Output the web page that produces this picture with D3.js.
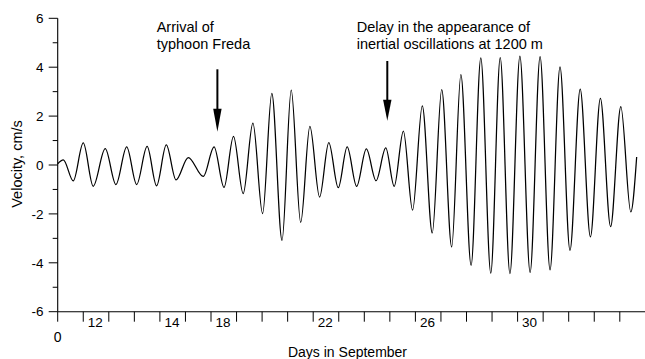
<!DOCTYPE html>
<html>
<head>
<meta charset="utf-8">
<script src="https://cdn.jsdelivr.net/npm/d3@7"></script>
<style>
  html, body { margin: 0; padding: 0; background: #fff; }
  svg { display: block; font-family: "Liberation Sans", Arial, sans-serif; }
</style>
</head>
<body>
<svg id="chart" width="645" height="359"></svg>
<script>
// Current velocity record: turning points of the oscillation (day index, cm/s)
const days = [0, 0.22, 0.61, 1.00, 1.39, 1.86, 2.28, 2.70, 3.09, 3.50, 3.87, 4.25, 4.63, 5.11, 5.70,
  6.12, 6.51, 6.88, 7.26, 7.64, 8.02, 8.38, 8.78, 9.14, 9.51, 9.87, 10.25, 10.61, 10.98, 11.33,
  11.70, 12.08, 12.46, 12.84, 13.17, 13.53, 13.89, 14.27, 14.66, 15.03, 15.42, 15.78, 16.18,
  16.56, 16.95, 17.32, 17.70, 18.09, 18.49, 18.88, 19.27, 19.66, 20.05, 20.45, 20.85, 21.24,
  21.64, 22.04, 22.43, 22.66];
const velocity = [0.05, 0.21, -0.65, 0.90, -0.87, 0.67, -0.80, 0.74, -0.80, 0.76, -0.85, 0.82,
  -0.61, 0.30, -0.47, 0.74, -0.92, 1.17, -1.17, 1.71, -1.99, 2.93, -3.08, 3.06, -2.35, 1.58,
  -1.31, 0.92, -0.93, 0.74, -0.87, 0.66, -0.64, 0.70, -0.87, 1.39, -1.85, 2.42, -2.78, 3.08,
  -3.35, 3.70, -4.11, 4.38, -4.42, 4.39, -4.44, 4.45, -4.39, 4.43, -4.29, 4.01, -3.49, 3.10,
  -2.94, 2.73, -2.52, 2.39, -1.92, 0.33];

// Axis ticks and labels
const xTickDays = d3.range(0, 23);
const xLabelDays = [1, 4, 6, 10, 14, 18];
const xLabels = ["12", "14", "18", "22", "26", "30"];
const xOriginLabel = "0";
const yMajorTicks = [-6, -4, -2, 0, 2, 4, 6];
const yMinorTicks = [-5, -3, -1, 1, 3, 5];

// Annotated events (day index)
const arrivalDay = 6.25;
const delayDay = 12.9;

const svg = d3.select("#chart");
const x = d3.scaleLinear().domain([0, 23]).range([57.7, 645.35]);
const y = d3.scaleLinear().domain([-6, 6]).range([311.7, 18.3]);

// Axes
const yAxis = svg.append("g");
yAxis.append("line")
  .attr("x1", x(0)).attr("x2", x(0))
  .attr("y1", y(6)).attr("y2", y(-6))
  .attr("stroke", "#000").attr("stroke-width", 1.1);
yAxis.selectAll("line.major").data(yMajorTicks).join("line")
  .attr("class", "major")
  .attr("x1", x(0) - 9).attr("x2", x(0))
  .attr("y1", d => y(d)).attr("y2", d => y(d))
  .attr("stroke", "#000").attr("stroke-width", 1);
yAxis.selectAll("line.minor").data(yMinorTicks).join("line")
  .attr("class", "minor")
  .attr("x1", x(0) - 5).attr("x2", x(0))
  .attr("y1", d => y(d)).attr("y2", d => y(d))
  .attr("stroke", "#000").attr("stroke-width", 1);
yAxis.selectAll("text").data(yMajorTicks).join("text")
  .attr("x", 43.5).attr("y", d => y(d))
  .attr("dy", "0.35em")
  .attr("text-anchor", "end")
  .attr("font-size", 13.5)
  .text(d => d);

const xAxis = svg.append("g");
xAxis.append("line")
  .attr("x1", x(0)).attr("x2", 645)
  .attr("y1", y(-6)).attr("y2", y(-6))
  .attr("stroke", "#000").attr("stroke-width", 1.1);
xAxis.selectAll("line.tick").data(xTickDays).join("line")
  .attr("class", "tick")
  .attr("x1", d => x(d)).attr("x2", d => x(d))
  .attr("y1", y(-6)).attr("y2", y(-6) + 10)
  .attr("stroke", "#000").attr("stroke-width", 1);
xAxis.selectAll("text.lbl").data(xLabelDays).join("text")
  .attr("class", "lbl")
  .attr("x", d => x(d) + 4.5).attr("y", 326.5)
  .attr("font-size", 13.5)
  .text((d, i) => xLabels[i]);
xAxis.append("text")
  .attr("x", x(0)).attr("y", 342.3)
  .attr("text-anchor", "middle")
  .attr("font-size", 14)
  .text(xOriginLabel);

// Axis titles
svg.append("text")
  .attr("transform", "translate(21.5,164) rotate(-90)")
  .attr("text-anchor", "middle")
  .attr("font-size", 14.5)
  .text("Velocity, cm/s");
svg.append("text")
  .attr("x", 347.5).attr("y", 356.5)
  .attr("text-anchor", "middle")
  .attr("font-size", 14)
  .text("Days in September");

// Velocity trace
const series = days.map((d, i) => ({ day: d, v: velocity[i] }));
const line = d3.line()
  .x(d => x(d.day))
  .y(d => y(d.v))
  .curve(d3.curveMonotoneX);
svg.append("path")
  .datum(series)
  .attr("d", line)
  .attr("fill", "none")
  .attr("stroke", "#000")
  .attr("stroke-width", 1.25)
  .attr("stroke-linejoin", "round");

// Annotations with arrows
function arrow(cx, yTop, yTip, headLen) {
  const g = svg.append("g");
  g.append("line")
    .attr("x1", cx).attr("x2", cx)
    .attr("y1", yTop).attr("y2", yTip - headLen + 1)
    .attr("stroke", "#000").attr("stroke-width", 2);
  g.append("path")
    .attr("d", `M${cx - 4.2},${yTip - headLen} L${cx + 4.2},${yTip - headLen} L${cx},${yTip} Z`)
    .attr("fill", "#000");
}
arrow(x(arrivalDay), 69.3, 131.7, 23);
arrow(x(delayDay), 61, 120.7, 21);

const note1 = svg.append("text").attr("font-size", 14.5);
note1.append("tspan").attr("x", 156.7).attr("y", 31.7).text("Arrival of");
note1.append("tspan").attr("x", 156.7).attr("y", 49.3).text("typhoon Freda");

const note2 = svg.append("text").attr("font-size", 14.5);
note2.append("tspan").attr("x", 356.7).attr("y", 31.7).text("Delay in the appearance of");
note2.append("tspan").attr("x", 356.7).attr("y", 49.3).text("inertial oscillations at 1200 m");
</script>
</body>
</html>
